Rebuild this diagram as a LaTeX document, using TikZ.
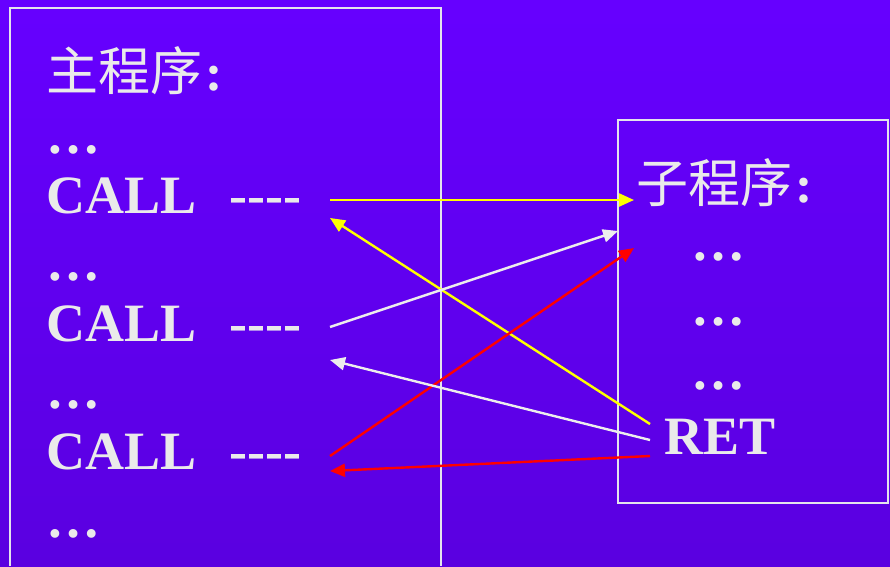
\documentclass[tikz,border=0pt]{standalone}
\usepackage{fontspec}
\setmainfont{Liberation Serif}
\newfontfamily\cjk{Noto Sans CJK SC}
\usetikzlibrary{arrows.meta}
\definecolor{bgtop}{HTML}{6600FF}
\definecolor{bgbot}{HTML}{5A00E0}
\definecolor{txt}{HTML}{EAEAEA}
\definecolor{frame}{HTML}{E4E4EC}
\definecolor{yel}{HTML}{FFFF00}
\definecolor{rd}{HTML}{FF0000}
\definecolor{wh}{HTML}{EDEDED}
\tikzset{
  lbl/.style={anchor=base west, inner sep=0pt, text=txt, font=\fontsize{54}{60}\selectfont\bfseries},
  cjklbl/.style={anchor=base west, inner sep=0pt, text=txt, font=\fontsize{52}{60}\selectfont},
  boxline/.style={draw=frame, line width=2pt},
  conn/.style={line width=2.4pt, -{Triangle[length=15pt,width=13pt]}}
}
\newcommand{\dashfour}{-{}-{}-{}-}
\begin{document}
\begin{tikzpicture}[x=1pt,y=-1pt]
\useasboundingbox (0,0) rectangle (890,566);
\shade[top color=bgtop, middle color=bgtop, bottom color=bgbot] (0,0) rectangle (890,566);
% boxes
\draw[boxline] (10,566) -- (10,8) -- (441,8) -- (441,566);
\draw[boxline] (618,120) rectangle (888,503);
% main program
\node[cjklbl] (mtitle) at (46,90) {{\cjk 主程序}\hspace{3pt}\textbf{:}};
\node[lbl] (md1) at (46,153) {…};
\node[lbl] (call1) at (46,213) {CALL};
\node[lbl] (dash1) at (229,213) {\dashfour};
\node[lbl] (md2) at (46,280) {…};
\node[lbl] (call2) at (46,341) {CALL};
\node[lbl] (dash2) at (229,341) {\dashfour};
\node[lbl] (md3) at (46,408) {…};
\node[lbl] (call3) at (46,469) {CALL};
\node[lbl] (dash3) at (229,469) {\dashfour};
\node[lbl] (md4) at (46,537) {…};
% subroutine
\node[cjklbl] (stitle) at (636,202) {{\cjk 子程序}\hspace{3pt}\textbf{:}};
\node[lbl] (sd1) at (691,260) {…};
\node[lbl] (sd2) at (691,325) {…};
\node[lbl] (sd3) at (691,389) {…};
\node[lbl] (ret) at (664,454) {RET};
% connector ends
\coordinate (c1o) at (330,200);
\coordinate (c1i) at (330,218);
\coordinate (c2o) at (330,327);
\coordinate (c2i) at (330,360);
\coordinate (c3o) at (330,456);
\coordinate (c3i) at (330,471);
\coordinate (s1) at (634,200);
\coordinate (s2) at (618,231);
\coordinate (s3) at (634,248);
\coordinate (r1) at (650,424);
\coordinate (r2) at (650,440);
\coordinate (r3) at (650,456);
\draw[conn, draw=yel, fill=yel] (c1o) -- (s1);
\draw[conn, draw=yel, fill=yel] (r1) -- (c1i);
\draw[conn, draw=wh, fill=wh] (c2o) -- (s2);
\draw[conn, draw=rd, fill=rd] (c3o) -- (s3);
\draw[conn, draw=wh, fill=wh] (r2) -- (c2i);
\draw[conn, draw=rd, fill=rd] (r3) -- (c3i);
\end{tikzpicture}
\end{document}
